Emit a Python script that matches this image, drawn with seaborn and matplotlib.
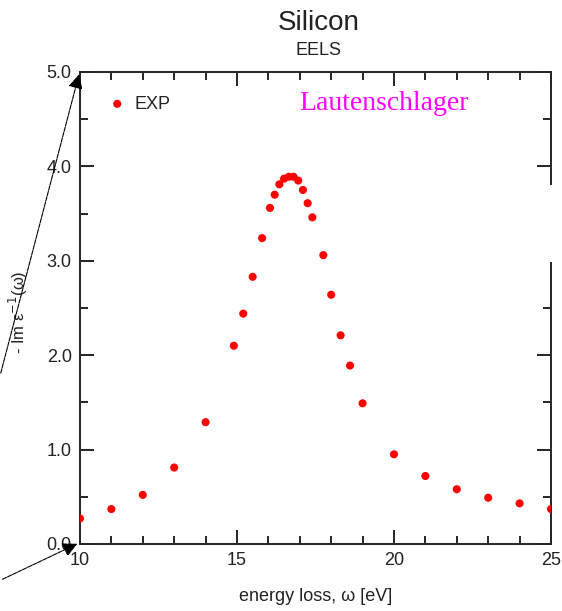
import matplotlib
matplotlib.use("Agg")
import matplotlib.pyplot as plt
import seaborn as sns
import pandas as pd
from matplotlib.patches import Rectangle
from matplotlib.ticker import MultipleLocator

energy = [10.0, 11.0, 12.0, 13.0, 14.0, 14.9, 15.2, 15.5, 15.8, 16.05, 16.2, 16.35,
          16.5, 16.65, 16.8, 16.95, 17.1, 17.25, 17.4, 17.75, 18.0, 18.3, 18.6,
          19.0, 20.0, 21.0, 22.0, 23.0, 24.0, 25.0]
loss = [0.27, 0.37, 0.52, 0.81, 1.29, 2.10, 2.44, 2.83, 3.24, 3.56, 3.70, 3.81,
        3.87, 3.89, 3.89, 3.85, 3.75, 3.61, 3.46, 3.06, 2.64, 2.21, 1.89,
        1.49, 0.95, 0.72, 0.58, 0.49, 0.43, 0.37]
yticks = [0, 1, 2, 3, 4, 5]
ytick_labels = ["0.0", "1.0", "2.0", "3.0", "4.0", "5.0"]

df = pd.DataFrame({"energy": energy, "loss": loss})

sns.set_style("ticks")
plt.rcParams['font.family'] = ['Liberation Sans', 'DejaVu Sans']

fig = plt.figure(figsize=(5.62, 6.11), dpi=100)
ax = fig.add_axes([0.1423, 0.1097, 0.8381, 0.7725])

sns.scatterplot(data=df, x="energy", y="loss", ax=ax, color="#ff0000",
                s=34, edgecolor="none", label="EXP", zorder=3)

ax.set_xlim(10, 25)
ax.set_ylim(0, 5)
ax.xaxis.set_major_locator(MultipleLocator(5))
ax.xaxis.set_minor_locator(MultipleLocator(1))
ax.set_yticks(yticks, ytick_labels)
ax.yaxis.set_minor_locator(MultipleLocator(0.5))
ax.tick_params(which="both", direction="in", top=True, right=True,
               labelsize=13, width=1.2, colors="black", labelcolor="#222222")
ax.tick_params(which="major", length=10, pad=6)
ax.tick_params(which="minor", length=6)
for sp in ax.spines.values():
    sp.set_linewidth(1.4)

ax.set_xlabel("energy loss, \u03c9 [eV]", fontsize=13, color="#222222")
ax.xaxis.set_label_coords(0.5, -0.094)
ax.set_ylabel("- Im \u03b5$^{-1}$(\u03c9)", fontsize=12, color="#222222")
ax.yaxis.set_label_coords(-0.106, 0.49)

ax.legend(loc="upper left", bbox_to_anchor=(0.06, 0.95), frameon=False,
          fontsize=13, handlelength=1.0, handletextpad=0.45,
          borderaxespad=0, borderpad=0, labelcolor="#222222")

ax.text(0.645, 0.934, "Lautenschlager", transform=ax.transAxes, ha="center",
        va="center", color="#ff00ff", fontsize=20, family="Liberation Serif")

fig.text(0.567, 0.962, "Silicon", ha="center", va="center", fontsize=20,
         color="#222222")
fig.text(0.567, 0.918, "EELS", ha="center", va="center", fontsize=13,
         color="#222222")

# arrows pointing at the axis corners
ax.annotate("", xy=(0.142, 0.883), xytext=(0.0, 0.385), xycoords="figure fraction",
            textcoords="figure fraction",
            arrowprops=dict(arrowstyle="-|>", color="black", lw=0.8,
                            linestyle=(0, (4, 1)), mutation_scale=22))
ax.annotate("", xy=(0.142, 0.112), xytext=(0.0, 0.05), xycoords="figure fraction",
            textcoords="figure fraction",
            arrowprops=dict(arrowstyle="-|>", color="black", lw=0.8,
                            linestyle=(0, (4, 1)), mutation_scale=22))

# white patch over the right edge
fig.patches.append(Rectangle((0.955, (611 - 262) / 611), 0.05, 77 / 611,
                             transform=fig.transFigure, facecolor="white",
                             edgecolor="none", zorder=10))

fig.savefig("out.png", dpi=100)
